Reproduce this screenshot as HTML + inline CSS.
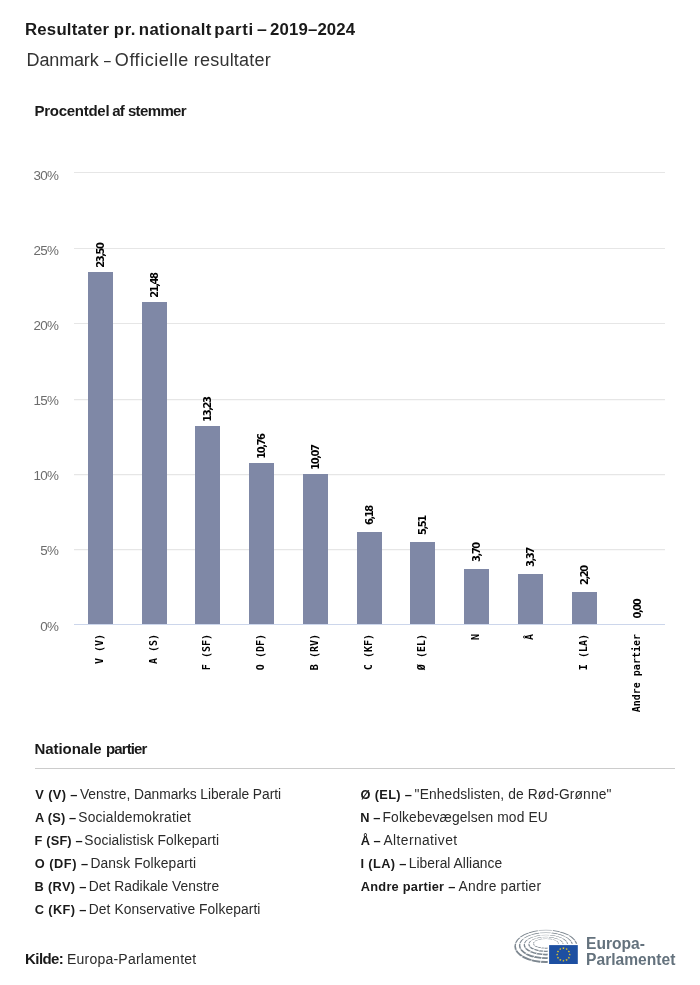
<!DOCTYPE html>
<html lang="da"><head><meta charset="utf-8"><title>Resultater pr. nationalt parti – 2019–2024</title>
<style>
html,body{margin:0;padding:0;background:#fff}
body{width:700px;height:985px;position:relative;overflow:hidden;font-family:"Liberation Sans",Arial,sans-serif;color:#222}
.chart{position:absolute;left:0;top:0}
.t{position:absolute;white-space:nowrap;line-height:0;height:0}
.t>*{display:inline-block;line-height:0;vertical-align:baseline}
.title{font-weight:bold;font-size:16.8px;color:#1a1a1a}
.sub{font-size:18px;color:#333}
.h{font-weight:bold;font-size:15px;color:#1a1a1a}
.lg{font-size:13.8px;color:#2a2a2a}
.lgb{font-size:12.8px;color:#1a1a1a}
.src{font-size:14px;color:#2a2a2a}
.srcb{font-size:15px;color:#1a1a1a}
.logo{font-weight:bold;font-size:15.6px;color:#64727d}
.hr{position:absolute;left:35px;top:768px;width:640px;height:1px;background:#ccc}
.yl{font-family:"Liberation Sans",Arial,sans-serif;font-size:13.4px;fill:#6c6c6c;letter-spacing:-0.7px}
.dl{font-family:"DejaVu Sans",sans-serif;font-weight:bold;font-size:10px;fill:#000}
.xl{font-family:"DejaVu Sans Mono","Liberation Mono",monospace;font-weight:bold;font-size:10px;fill:#000}
</style></head>
<body>
<svg class="chart" width="700" height="985" viewBox="0 0 700 985">
<rect x="74" y="172" width="591" height="1" fill="#e6e6e6"/>
<rect x="74" y="248" width="591" height="1" fill="#e6e6e6"/>
<rect x="74" y="323" width="591" height="1" fill="#e6e6e6"/>
<rect x="74" y="399" width="591" height="1.25" fill="#e6e6e6"/>
<rect x="74" y="474" width="591" height="1.25" fill="#e6e6e6"/>
<rect x="74" y="549" width="591" height="1.25" fill="#e6e6e6"/>
<text class="yl" x="58.2" y="180" text-anchor="end">30%</text>
<text class="yl" x="58.2" y="255" text-anchor="end">25%</text>
<text class="yl" x="58.2" y="330" text-anchor="end">20%</text>
<text class="yl" x="58.2" y="405.3" text-anchor="end">15%</text>
<text class="yl" x="58.2" y="480.3" text-anchor="end">10%</text>
<text class="yl" x="58.2" y="555.4" text-anchor="end">5%</text>
<text class="yl" x="58.2" y="630.8" text-anchor="end">0%</text>
<rect x="88" y="272" width="25" height="352" fill="#7f88a6"/>
<rect x="142" y="302" width="25" height="322" fill="#7f88a6"/>
<rect x="195" y="426" width="25" height="198" fill="#7f88a6"/>
<rect x="249" y="463" width="25" height="161" fill="#7f88a6"/>
<rect x="303" y="474" width="25" height="150" fill="#7f88a6"/>
<rect x="357" y="532" width="25" height="92" fill="#7f88a6"/>
<rect x="410" y="542" width="25" height="82" fill="#7f88a6"/>
<rect x="464" y="569" width="25" height="55" fill="#7f88a6"/>
<rect x="518" y="574" width="25" height="50" fill="#7f88a6"/>
<rect x="572" y="592" width="25" height="32" fill="#7f88a6"/>
<rect x="74" y="624" width="591" height="1" fill="#ccd6eb"/>
<text class="dl" transform="translate(104.0,255.1) rotate(-90)" x="-12.78 -7.23 -1.68 0.52 6.07">23,50</text>
<text class="dl" transform="translate(158.0,285.1) rotate(-90)" x="-12.78 -7.23 -1.68 0.52 6.07">21,48</text>
<text class="dl" transform="translate(211.0,409.1) rotate(-90)" x="-12.78 -7.23 -1.68 0.52 6.07">13,23</text>
<text class="dl" transform="translate(265.0,446.1) rotate(-90)" x="-12.78 -7.23 -1.68 0.52 6.07">10,76</text>
<text class="dl" transform="translate(319.0,457.1) rotate(-90)" x="-12.78 -7.23 -1.68 0.52 6.07">10,07</text>
<text class="dl" transform="translate(373.0,515.1) rotate(-90)" x="-10.00 -4.45 -2.25 3.30">6,18</text>
<text class="dl" transform="translate(426.0,525.1) rotate(-90)" x="-10.00 -4.45 -2.25 3.30">5,51</text>
<text class="dl" transform="translate(480.0,552.1) rotate(-90)" x="-10.00 -4.45 -2.25 3.30">3,70</text>
<text class="dl" transform="translate(534.0,557.1) rotate(-90)" x="-10.00 -4.45 -2.25 3.30">3,37</text>
<text class="dl" transform="translate(588.0,575.1) rotate(-90)" x="-10.00 -4.45 -2.25 3.30">2,20</text>
<text class="dl" transform="translate(641.0,608.5) rotate(-90)" x="-10.00 -4.45 -2.25 3.30">0,00</text>
<text class="xl" transform="translate(103.0,634) rotate(-90)" text-anchor="end" xml:space="preserve">V (V)</text>
<text class="xl" transform="translate(157.0,634) rotate(-90)" text-anchor="end" xml:space="preserve">A (S)</text>
<text class="xl" transform="translate(210.0,634) rotate(-90)" text-anchor="end" xml:space="preserve">F (SF)</text>
<text class="xl" transform="translate(264.0,634) rotate(-90)" text-anchor="end" xml:space="preserve">O (DF)</text>
<text class="xl" transform="translate(318.0,634) rotate(-90)" text-anchor="end" xml:space="preserve">B (RV)</text>
<text class="xl" transform="translate(372.0,634) rotate(-90)" text-anchor="end" xml:space="preserve">C (KF)</text>
<text class="xl" transform="translate(425.0,634) rotate(-90)" text-anchor="end" xml:space="preserve">Ø (EL)</text>
<text class="xl" transform="translate(479.0,634) rotate(-90)" text-anchor="end" xml:space="preserve">N</text>
<text class="xl" transform="translate(533.0,634) rotate(-90)" text-anchor="end" xml:space="preserve">Å</text>
<text class="xl" transform="translate(587.0,634) rotate(-90)" text-anchor="end" xml:space="preserve">I (LA)</text>
<text class="xl" transform="translate(640.0,634) rotate(-90)" text-anchor="end" xml:space="preserve">Andre partier</text>
<g class="eplogo">
<defs><clipPath id="hc"><path d="M505 920H585V943.8H547.7V970H505Z"/></clipPath></defs>
<g clip-path="url(#hc)">
<path fill="#7d8790" fill-rule="evenodd" d="M533.11 943.70A12.89 5.10 0 1 0 558.89 943.70A12.89 5.10 0 1 0 533.11 943.70ZM534.10 943.40A11.91 4.20 0 1 0 557.90 943.40A11.91 4.20 0 1 0 534.10 943.40ZM528.33 944.38A17.67 7.71 0 1 0 563.67 944.38A17.67 7.71 0 1 0 528.33 944.38ZM529.47 944.02A16.53 6.69 0 1 0 562.53 944.02A16.53 6.69 0 1 0 529.47 944.02ZM523.66 945.02A22.34 10.38 0 1 0 568.34 945.02A22.34 10.38 0 1 0 523.66 945.02ZM524.94 944.58A21.06 9.22 0 1 0 567.06 944.58A21.06 9.22 0 1 0 524.94 944.58ZM518.89 945.65A27.11 13.45 0 1 0 573.11 945.65A27.11 13.45 0 1 0 518.89 945.65ZM520.31 945.14A25.69 12.16 0 1 0 571.69 945.14A25.69 12.16 0 1 0 520.31 945.14ZM514.32 946.39A31.68 16.71 0 1 0 577.68 946.39A31.68 16.71 0 1 0 514.32 946.39ZM515.88 945.81A30.12 15.29 0 1 0 576.12 945.81A30.12 15.29 0 1 0 515.88 945.81Z"/>
<line x1="544.44" y1="947.35" x2="540.10" y2="963.91" stroke="#fff" stroke-width="0.75"/>
<line x1="541.77" y1="947.03" x2="530.04" y2="961.98" stroke="#fff" stroke-width="0.75"/>
<line x1="539.11" y1="946.26" x2="519.95" y2="957.41" stroke="#fff" stroke-width="0.75"/>
<line x1="537.39" y1="945.14" x2="513.49" y2="950.76" stroke="#fff" stroke-width="0.75"/>
<line x1="537.05" y1="943.87" x2="512.19" y2="943.21" stroke="#fff" stroke-width="0.75"/>
<line x1="538.05" y1="942.70" x2="515.98" y2="936.28" stroke="#fff" stroke-width="0.75"/>
<line x1="540.46" y1="941.68" x2="525.07" y2="930.23" stroke="#fff" stroke-width="0.75"/>
<line x1="550.50" y1="941.43" x2="563.00" y2="928.75" stroke="#fff" stroke-width="0.75"/>
<line x1="553.09" y1="942.23" x2="572.79" y2="933.50" stroke="#fff" stroke-width="0.75"/>
<line x1="554.69" y1="943.37" x2="578.84" y2="940.28" stroke="#fff" stroke-width="0.75"/>
<path d="M537.2 928.5L553.5 928.5L547.4 939.6L543 939.6Z" fill="#fff" fill-opacity="0.4"/>
<path d="M537.2 928.5L543 939.6M553.5 928.5L547.4 939.6" stroke="#fff" stroke-width="0.9" fill="none"/>
</g>
<rect x="549.1" y="945.1" width="28.7" height="18.9" fill="#1d4fa1"/>
<polygon points="569.75,953.30 570.06,954.13 570.94,954.16 570.25,954.71 570.48,955.56 569.75,955.07 569.02,955.56 569.25,954.71 568.56,954.16 569.44,954.13" fill="#ffd51a"/>
<polygon points="568.91,956.45 569.21,957.28 570.09,957.31 569.41,957.86 569.64,958.71 568.91,958.22 568.17,958.71 568.41,957.86 567.72,957.31 568.60,957.28" fill="#ffd51a"/>
<polygon points="566.60,958.76 566.91,959.58 567.79,959.62 567.10,960.17 567.33,961.02 566.60,960.53 565.87,961.02 566.10,960.17 565.41,959.62 566.29,959.58" fill="#ffd51a"/>
<polygon points="563.45,959.60 563.76,960.43 564.64,960.46 563.95,961.01 564.18,961.86 563.45,961.37 562.72,961.86 562.95,961.01 562.26,960.46 563.14,960.43" fill="#ffd51a"/>
<polygon points="560.30,958.76 560.61,959.58 561.49,959.62 560.80,960.17 561.03,961.02 560.30,960.53 559.57,961.02 559.80,960.17 559.11,959.62 559.99,959.58" fill="#ffd51a"/>
<polygon points="557.99,956.45 558.30,957.28 559.18,957.31 558.49,957.86 558.73,958.71 557.99,958.22 557.26,958.71 557.49,957.86 556.81,957.31 557.69,957.28" fill="#ffd51a"/>
<polygon points="557.15,953.30 557.46,954.13 558.34,954.16 557.65,954.71 557.88,955.56 557.15,955.07 556.42,955.56 556.65,954.71 555.96,954.16 556.84,954.13" fill="#ffd51a"/>
<polygon points="557.99,950.15 558.30,950.98 559.18,951.01 558.49,951.56 558.73,952.41 557.99,951.92 557.26,952.41 557.49,951.56 556.81,951.01 557.69,950.98" fill="#ffd51a"/>
<polygon points="560.30,947.84 560.61,948.67 561.49,948.71 560.80,949.26 561.03,950.11 560.30,949.62 559.57,950.11 559.80,949.26 559.11,948.71 559.99,948.67" fill="#ffd51a"/>
<polygon points="563.45,947.00 563.76,947.83 564.64,947.86 563.95,948.41 564.18,949.26 563.45,948.77 562.72,949.26 562.95,948.41 562.26,947.86 563.14,947.83" fill="#ffd51a"/>
<polygon points="566.60,947.84 566.91,948.67 567.79,948.71 567.10,949.26 567.33,950.11 566.60,949.62 565.87,950.11 566.10,949.26 565.41,948.71 566.29,948.67" fill="#ffd51a"/>
<polygon points="568.91,950.15 569.21,950.98 570.09,951.01 569.41,951.56 569.64,952.41 568.91,951.92 568.17,952.41 568.41,951.56 567.72,951.01 568.60,950.98" fill="#ffd51a"/>
</g>
</svg>
<div class="t title" style="left:24.96px;top:30.08px;font-size:16.8px;"><span id="titlew0" style="letter-spacing:0.216px">Resultater</span></div>
<div class="t title" style="left:113.84px;top:30.08px;font-size:16.8px;"><span id="titlew1" style="letter-spacing:0.579px">pr.</span></div>
<div class="t title" style="left:138.85px;top:30.08px;font-size:16.8px;"><span id="titlew2" style="letter-spacing:0.319px">nationalt</span></div>
<div class="t title" style="left:214.24px;top:30.08px;font-size:16.8px;"><span id="titlew3" style="letter-spacing:0.65px">parti</span></div>
<div class="t title" style="left:256.57px;top:30.08px;font-size:16.8px;"><span id="titlew4" style="letter-spacing:0px;transform:scaleX(1.055);transform-origin:0 50%">–</span></div>
<div class="t title" style="left:270.07px;top:30.08px;font-size:16.8px;"><span id="titlew5" style="letter-spacing:0.13px">2019–2024</span></div>
<div class="t sub" style="left:26.60px;top:60.46px;font-size:18.0px;"><span id="subw0" style="letter-spacing:-0.155px">Danmark</span></div>
<div class="t sub" style="left:103.75px;top:60.46px;font-size:18.0px;"><span id="subw1" style="letter-spacing:0px;transform:scaleX(0.67);transform-origin:0 50%">–</span></div>
<div class="t sub" style="left:114.86px;top:60.46px;font-size:18.0px;"><span id="subw2" style="letter-spacing:0.532px">Officielle</span></div>
<div class="t sub" style="left:193.85px;top:60.46px;font-size:18.0px;"><span id="subw3" style="letter-spacing:0.2px">resultater</span></div>
<div class="t h" style="left:34.43px;top:111.10px;font-size:15.0px;"><span id="h1w0" style="letter-spacing:-0.265px">Procentdel</span></div>
<div class="t h" style="left:112.30px;top:111.10px;font-size:15.0px;"><span id="h1w1" style="letter-spacing:-0.9px">af</span></div>
<div class="t h" style="left:127.90px;top:111.10px;font-size:15.0px;"><span id="h1w2" style="letter-spacing:-0.63px">stemmer</span></div>
<div class="t h" style="left:34.39px;top:749.00px;font-size:15.0px;"><span id="h2w0" style="letter-spacing:-0.031px">Nationale</span></div>
<div class="t h" style="left:105.94px;top:749.00px;font-size:15.0px;"><span id="h2w1" style="letter-spacing:-0.88px">partier</span></div>
<div class="hr"></div>
<div class="t lgb" style="left:35.34px;top:794.76px;font-size:12.8px;"><b id="lb0" style="letter-spacing:0.382px">V (V) –</b></div>
<div class="t lg" style="left:79.98px;top:795.42px;font-size:13.8px;"><span id="lr0" style="letter-spacing:-0.044px">Venstre, Danmarks Liberale Parti</span></div>
<div class="t lgb" style="left:35.12px;top:817.76px;font-size:12.8px;"><b id="lb1" style="letter-spacing:0.164px">A (S) –</b></div>
<div class="t lg" style="left:78.32px;top:818.42px;font-size:13.8px;"><span id="lr1" style="letter-spacing:0.179px">Socialdemokratiet</span></div>
<div class="t lgb" style="left:34.62px;top:840.76px;font-size:12.8px;"><b id="lb2" style="letter-spacing:0.153px">F (SF) –</b></div>
<div class="t lg" style="left:84.37px;top:841.42px;font-size:13.8px;"><span id="lr2" style="letter-spacing:0.088px">Socialistisk Folkeparti</span></div>
<div class="t lgb" style="left:34.74px;top:863.76px;font-size:12.8px;"><b id="lb3" style="letter-spacing:0.525px">O (DF) –</b></div>
<div class="t lg" style="left:90.39px;top:864.42px;font-size:13.8px;"><span id="lr3" style="letter-spacing:0.142px">Dansk Folkeparti</span></div>
<div class="t lgb" style="left:34.62px;top:886.76px;font-size:12.8px;"><b id="lb4" style="letter-spacing:0.314px">B (RV) –</b></div>
<div class="t lg" style="left:88.76px;top:887.42px;font-size:13.8px;"><span id="lr4" style="letter-spacing:0.037px">Det Radikale Venstre</span></div>
<div class="t lgb" style="left:34.74px;top:909.76px;font-size:12.8px;"><b id="lb5" style="letter-spacing:0.363px">C (KF) –</b></div>
<div class="t lg" style="left:88.76px;top:910.42px;font-size:13.8px;"><span id="lr5" style="letter-spacing:0.083px">Det Konservative Folkeparti</span></div>
<div class="t lgb" style="left:360.57px;top:794.76px;font-size:12.8px;"><b id="rb0" style="letter-spacing:0.326px">Ø (EL) –</b></div>
<div class="t lg" style="left:414.62px;top:795.42px;font-size:13.8px;"><span id="rr0" style="letter-spacing:0.134px">"Enhedslisten, de Rød-Grønne"</span></div>
<div class="t lgb" style="left:360.31px;top:817.76px;font-size:12.8px;"><b id="rb1" style="letter-spacing:0.097px">N –</b></div>
<div class="t lg" style="left:382.54px;top:818.42px;font-size:13.8px;"><span id="rr1" style="letter-spacing:0.124px">Folkebevægelsen mod EU</span></div>
<div class="t lgb" style="left:360.78px;top:840.76px;font-size:12.8px;"><b id="rb2" style="letter-spacing:-0.071px">Å –</b></div>
<div class="t lg" style="left:383.42px;top:841.42px;font-size:13.8px;"><span id="rr2" style="letter-spacing:0.424px">Alternativet</span></div>
<div class="t lgb" style="left:360.43px;top:863.76px;font-size:12.8px;"><b id="rb3" style="letter-spacing:0.379px">I (LA) –</b></div>
<div class="t lg" style="left:408.80px;top:864.42px;font-size:13.8px;"><span id="rr3" style="letter-spacing:0.037px">Liberal Alliance</span></div>
<div class="t lgb" style="left:360.78px;top:886.76px;font-size:12.8px;"><b id="rb4" style="letter-spacing:0.248px">Andre partier –</b></div>
<div class="t lg" style="left:458.62px;top:887.42px;font-size:13.8px;"><span id="rr4" style="letter-spacing:0.22px">Andre partier</span></div>
<div class="t srcb" style="left:25.11px;top:958.90px;font-size:15.0px;"><b id="k1" style="letter-spacing:-0.598px">Kilde:</b></div>
<div class="t src" style="left:66.90px;top:959.25px;font-size:14.0px;"><span id="k2" style="letter-spacing:0.235px">Europa-Parlamentet</span></div>
<div class="t logo" style="left:586.10px;top:943.89px;font-size:15.6px;"><span id="lg1" style="letter-spacing:-0.023px">Europa-</span></div>
<div class="t logo" style="left:586.10px;top:959.59px;font-size:15.6px;"><span id="lg2" style="letter-spacing:0.0px">Parlamentet</span></div>

</body></html>
